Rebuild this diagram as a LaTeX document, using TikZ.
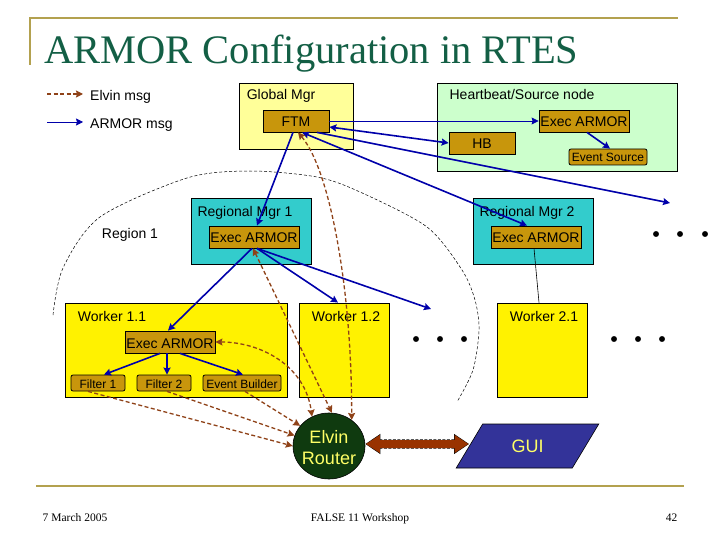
\documentclass[tikz,border=0pt]{standalone}
\usepackage{fontspec}
\setmainfont{Liberation Sans}
\newfontfamily\slidefont{Liberation Serif}
\usetikzlibrary{shapes.geometric, arrows.meta}
\definecolor{rulegold}{HTML}{B3A14F}
\definecolor{titlegreen}{HTML}{135F45}
\definecolor{amberbox}{HTML}{C8960C}
\definecolor{palegold}{HTML}{FFFF99}
\definecolor{palegreen}{HTML}{CCFFCC}
\definecolor{tealbox}{HTML}{33CCCC}
\definecolor{elvingreen}{HTML}{0F3A0F}
\definecolor{guiblue}{HTML}{333399}
\definecolor{elvinbrown}{HTML}{8F4218}
\definecolor{linkbrown}{HTML}{993300}
\definecolor{armorblue}{HTML}{0000AA}
\definecolor{softyellow}{HTML}{FFFF66}
\tikzset{
  >={Stealth[length=7pt,width=7pt,inset=1pt]},
  areabox/.style={draw=black, line width=0.8pt, inner sep=0pt},
  armorbox/.style={areabox, fill=amberbox, minimum width=90pt, minimum height=22pt, text height=12pt, text depth=0pt, font=\fontsize{14}{16}\selectfont},
  smallbox/.style={areabox, fill=amberbox, rounded corners=2pt, minimum height=16pt, text height=10pt, text depth=0pt, font=\fontsize{12}{14}\selectfont},
  lbl/.style={inner sep=0pt, text height=10pt, text depth=0pt, font=\fontsize{14}{16}\selectfont},
  foot/.style={inner sep=0pt, anchor=base, font=\slidefont\fontsize{11.5}{13}\selectfont},
  armormsg/.style={armorblue, line width=1.6pt, ->},
  elvinmsg/.style={elvinbrown, line width=1.3pt, dash pattern=on 4pt off 2.5pt, ->},
}
\begin{document}
\begin{tikzpicture}[x=1pt, y=-1pt]
        \useasboundingbox (0,0) rectangle (720,540);
        \draw [rulegold, line width=1.4pt] (30,65) -- (30,18) -- (678,18);
        \draw [rulegold, line width=1.4pt] (36,486) -- (684,486);
        \node [anchor=base west, inner sep=0pt, titlegreen, font=\slidefont\fontsize{40.5}{44}\selectfont] (title) at (44,64) {ARMOR Configuration in RTES};

        \draw [black, line width=0.5pt, dash pattern=on 3pt off 2pt] plot [smooth] coordinates {(53,315) (63,268) (100,217) (187,178) (250,171) (317,177) (360,192) (427,227) (462,270) (475,300) (479,330) (473,370) (457,402)};

        \coordinate (elvinfrom) at (47,94);
        \coordinate (elvinto) at (83,94);
        \coordinate (armorfrom) at (47,122);
        \coordinate (armorto) at (83,122);
        \node [lbl, anchor=west] (elvinkey) at (90,95.5) {Elvin msg};
        \node [lbl, anchor=west] (armorkey) at (90,123.5) {ARMOR msg};

        \node [areabox, fill=palegold, minimum width=114.5pt, minimum height=66pt] (globalbox) at (296.2,116) {};
        \node [lbl] (globallbl) at (281,95) {Global Mgr};
        \node [armorbox, minimum width=66pt] (ftm) at (296,121) {FTM};

        \node [areabox, fill=palegreen, minimum width=240pt, minimum height=88pt] (heartbox) at (557,127) {};
        \node [lbl] (heartlbl) at (522,95) {Heartbeat/Source node};
        \node [armorbox] (execsource) at (584,121) {Exec ARMOR};
        \node [armorbox, minimum width=66pt] (hb) at (482,143) {HB};
        \node [smallbox, minimum width=78pt] (eventsource) at (608,157) {Event Source};

        \node [areabox, fill=tealbox, minimum width=120pt, minimum height=66pt] (regionbox) at (251,231) {};
        \node [lbl] (regionlbl) at (245,211) {Regional Mgr 1};
        \node [armorbox] (execone) at (254,237) {Exec ARMOR};
        \node [lbl] (regionname) at (130,233.5) {Region 1};

        \node [areabox, fill=tealbox, minimum width=120pt, minimum height=66pt] (regiontwobox) at (533,231) {};
        \node [lbl] (regiontwolbl) at (527,211) {Regional Mgr 2};
        \node [armorbox] (exectwo) at (536,237) {Exec ARMOR};

        \node [areabox, fill=yellow, minimum width=222pt, minimum height=94pt] (workerbox) at (176,350) {};
        \node [lbl] (workerlbl) at (112,316) {Worker 1.1};
        \node [armorbox] (execworker) at (170,342) {Exec ARMOR};
        \node [smallbox, minimum width=54pt] (filterone) at (98,383) {Filter 1};
        \node [smallbox, minimum width=54pt] (filtertwo) at (164,383) {Filter 2};
        \node [smallbox, minimum width=78pt] (builder) at (242,383) {Event Builder};

        \node [areabox, fill=yellow, minimum width=90pt, minimum height=94pt] (workertwobox) at (344,350) {};
        \node [lbl] (workertwolbl) at (346,316) {Worker 1.2};
        \node [areabox, fill=yellow, minimum width=90pt, minimum height=94pt] (workerthreebox) at (542,350) {};
        \node [lbl] (workerthreelbl) at (544,316) {Worker 2.1};

        \node [ellipse, draw=black, line width=0.6pt, fill=elvingreen, inner sep=0pt, minimum width=72pt, minimum height=66pt] (elvin) at (329,446) {};
        \node [inner sep=0pt, text=softyellow, align=center, font=\fontsize{18}{21}\selectfont] (elvinlbl) at (329,447.5) {Elvin\\Router};
        \node [trapezium, trapezium left angle=54, trapezium right angle=126, trapezium stretches=true, draw=black, line width=0.6pt, fill=guiblue, text=softyellow, inner sep=0pt, minimum width=143pt, minimum height=44pt, text height=13pt, text depth=0pt, font=\fontsize{18}{21}\selectfont] (gui) at (527.5,446) {GUI};

        \node [foot] (datelbl) at (75,521.5) {7 March 2005};
        \node [foot] (eventlbl) at (360,521.5) {FALSE 11 Workshop};
        \node [foot] (pagelbl) at (671.5,521.5) {42};

        \filldraw [black] (656,234) circle (2.7pt);
        \filldraw [black] (680,234) circle (2.7pt);
        \filldraw [black] (705,234) circle (2.7pt);
        \filldraw [black] (416,339) circle (2.7pt);
        \filldraw [black] (440,339) circle (2.7pt);
        \filldraw [black] (464,339) circle (2.7pt);
        \filldraw [black] (614,339) circle (2.7pt);
        \filldraw [black] (638,339) circle (2.7pt);
        \filldraw [black] (662,339) circle (2.7pt);

        \coordinate (moreregions) at (670,203);
        \coordinate (moreworkers) at (431,309);

        \draw [black, line width=0.6pt] ([xshift=-2pt]exectwo.south) -- ([xshift=-3pt]workerthreebox.north);

        \draw [armormsg, line width=0.7pt] (armorfrom) -- (armorto);
        \draw [armormsg, line width=0.7pt] (ftm.east) -- (execsource.west);
        \draw [armormsg, <->] ([yshift=-6pt]ftm.east) -- (hb.west);
        \draw [armormsg] ([xshift=21pt]ftm.south) -- (moreregions);
        \draw [armormsg, <->] ([xshift=6pt]ftm.south) -- ([xshift=-9pt]exectwo.north);
        \draw [armormsg] ([xshift=-3pt]ftm.south) -- ([xshift=3pt]execone.north);
        \draw [armormsg] ([xshift=3pt]execsource.south) -- ([xshift=2pt]eventsource.north);
        \draw [armormsg] ([xshift=-2pt]execone.south) -- ([xshift=-2pt]execworker.north);
        \draw [armormsg] ([xshift=3pt]execone.south) -- ([xshift=-6pt]workertwobox.north);
        \draw [armormsg] ([xshift=3pt]execone.south) -- (moreworkers);
        \draw [armormsg] ([xshift=-10pt]execworker.south) -- ([xshift=6pt]filterone.north);
        \draw [armormsg] ([xshift=-3pt]execworker.south) -- ([xshift=3pt]filtertwo.north);
        \draw [armormsg] ([xshift=10pt]execworker.south) -- ([xshift=1pt]builder.north);

        \draw [elvinmsg] (elvinfrom) -- (elvinto);
        \draw [elvinmsg, <->] ([xshift=2pt]ftm.south) .. controls (330,170) and (352,290) .. (elvin.49);
        \draw [elvinmsg, <->] ([xshift=-1pt]execone.south) -- (elvin.85);
        \draw [elvinmsg, <->] (execworker.east) .. controls (260,342) and (305,365) .. (elvin.120);
        \draw [elvinmsg] ([xshift=3pt]builder.south) -- (elvin.145);
        \draw [elvinmsg] ([xshift=3pt]filtertwo.south) -- (elvin.163);
        \draw [elvinmsg] ([xshift=-10pt]filterone.south) -- (elvin.west);

        \draw [black, line width=9.4pt, dash pattern=on 3pt off 1.5pt, {Triangle[length=15pt,width=19pt]}-{Triangle[length=15pt,width=19pt]}] ([yshift=2pt]elvin.east) -- ([yshift=2pt]gui.west);
        \draw [linkbrown, line width=8pt, {Triangle[length=14pt,width=17pt]}-{Triangle[length=14pt,width=17pt]}, shorten <=0.5pt, shorten >=0.5pt] ([yshift=2pt]elvin.east) -- ([yshift=2pt]gui.west);
    \end{tikzpicture}
\end{document}
